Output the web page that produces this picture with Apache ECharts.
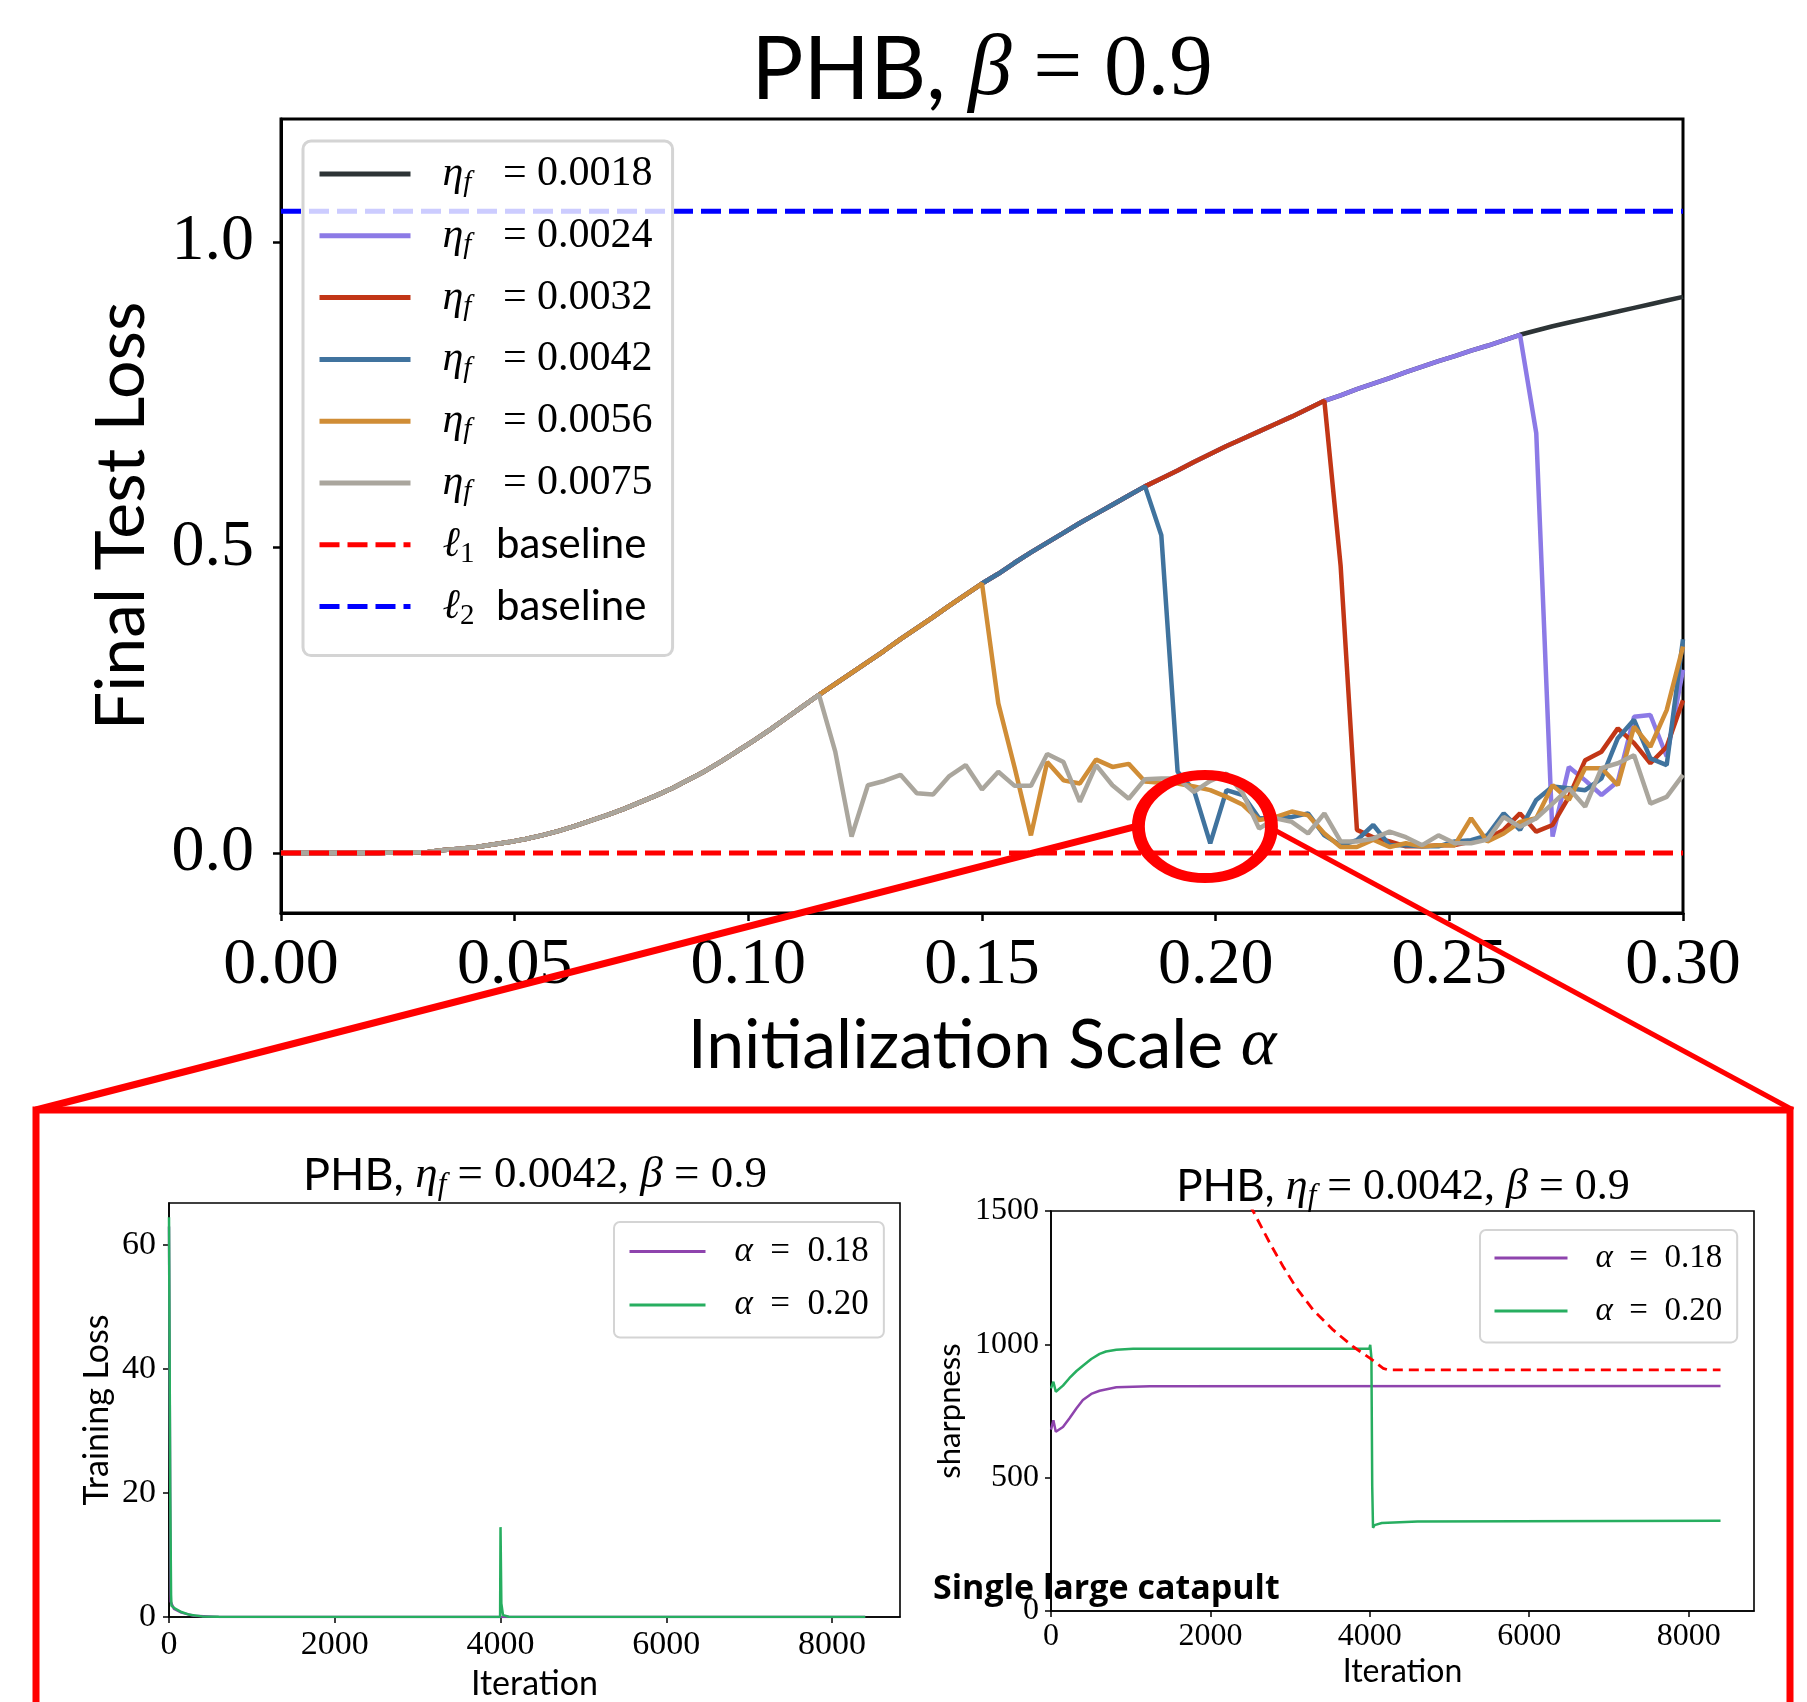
<!DOCTYPE html>
<html>
<head>
<meta charset="utf-8">
<script src="https://cdn.jsdelivr.net/npm/echarts@6/dist/echarts.min.js"></script>
<style>
  html, body { margin: 0; padding: 0; background: #fff; }
  #chart { width: 1807px; height: 1702px; }
</style>
</head>
<body>
<div id="chart"></div>
<script>
// sweep grid: 87 initialization scales evenly spaced over [0, 0.3]
const alphaStep = 0.3 / 86
const alphas = Array.from({ length: 87 }, (_, i) => +(i * alphaStep).toFixed(5))

// shared branch every run follows before its catapult
const trunk = [
  0, 0, 0, 0, 0, 0, 0, 0.001, 0.001, 0.002,
  0.005, 0.007, 0.010, 0.014, 0.018, 0.023, 0.029, 0.036, 0.044, 0.053,
  0.062, 0.072, 0.083, 0.094, 0.106, 0.120, 0.134, 0.150, 0.167, 0.184,
  0.202, 0.221, 0.240, 0.259, 0.277, 0.295, 0.313, 0.331, 0.350, 0.368,
  0.386, 0.405, 0.423, 0.441, 0.457, 0.475, 0.492, 0.508, 0.524, 0.540,
  0.555, 0.570, 0.585, 0.600, 0.613, 0.626, 0.640, 0.653, 0.666, 0.678,
  0.690, 0.702, 0.714, 0.727, 0.740, 0.749, 0.759, 0.768, 0.777, 0.787,
  0.796, 0.805, 0.813, 0.822, 0.830, 0.839, 0.848, 0.855, 0.862, 0.868,
  0.874, 0.880, 0.886, 0.892, 0.898, 0.904, 0.910
]

const etaLabels = ['0.0018', '0.0024', '0.0032', '0.0042', '0.0056', '0.0075']
const etaColors = ['#2d3436', '#8c7ae6', '#c23616', '#40739e', '#d08d36', '#aaa69d']
// index where each run leaves the trunk
const dropAt = [87, 77, 65, 54, 44, 34]
const tail0018 = []
const tail0024 = [0.687, 0.027, 0.141, 0.119, 0.095, 0.117, 0.223, 0.226, 0.158, 0.30]
const tail0032 = [0.47, 0.038, 0.026, 0.019, 0.011, 0.011, 0.013, 0.013, 0.019, 0.024,
  0.038, 0.065, 0.035, 0.046, 0.092, 0.152, 0.166, 0.204, 0.18, 0.147, 0.174, 0.25]
const tail0042 = [0.52, 0.133, 0.103, 0.016, 0.103, 0.095, 0.057, 0.057, 0.059, 0.065,
  0.029, 0.013, 0.021, 0.046, 0.013, 0.013, 0.011, 0.011, 0.019, 0.021,
  0.029, 0.065, 0.038, 0.087, 0.109, 0.106, 0.103, 0.122, 0.188, 0.218, 0.155, 0.144, 0.35]
const tail0056 = [0.245, 0.14, 0.029, 0.149, 0.119, 0.114, 0.153, 0.141, 0.146, 0.117,
  0.115, 0.114, 0.109, 0.103, 0.092, 0.079, 0.054, 0.059, 0.068, 0.062,
  0.032, 0.010, 0.010, 0.022, 0.010, 0.016, 0.011, 0.013, 0.013, 0.057,
  0.019, 0.032, 0.051, 0.057, 0.111, 0.087, 0.139, 0.139, 0.111, 0.207, 0.174, 0.234, 0.338]
const tail0075 = [0.166, 0.027, 0.111, 0.118, 0.128, 0.098, 0.096, 0.126, 0.144, 0.104,
  0.133, 0.110, 0.110, 0.162, 0.149, 0.084, 0.144, 0.111, 0.089, 0.121,
  0.122, 0.122, 0.100, 0.118, 0.130, 0.098, 0.040, 0.057, 0.051, 0.032,
  0.065, 0.019, 0.019, 0.024, 0.035, 0.026, 0.013, 0.029, 0.016, 0.016,
  0.022, 0.059, 0.043, 0.057, 0.081, 0.106, 0.076, 0.139, 0.147, 0.160, 0.081, 0.092, 0.128]
const tails = [tail0018, tail0024, tail0032, tail0042, tail0056, tail0075]

const l1Level = 0
const l2Level = 1.05

// zoomed panels (eta_f = 0.0042)
const trainIter018 = [0, 20, 60, 150, 300, 600, 8400]
const trainLoss018 = [63, 2.5, 1.3, 0.7, 0.2, 0.02, 0.01]
const trainIter020 = [0, 15, 25, 30, 80, 150, 250, 400, 600, 3995, 4000, 4010, 4030, 4100, 8400]
const trainLoss020 = [64.5, 20, 3.6, 1.8, 1.3, 0.8, 0.35, 0.1, 0.03, 0.02, 14.5, 2.2, 0.3, 0.05, 0.01]

const sharpIter018 = [0, 30, 60, 150, 230, 320, 400, 505, 610, 820, 1240, 8400]
const sharp018 = [680, 715, 672, 690, 722, 760, 791, 814, 826, 839, 843, 844]
const sharpIter020 = [0, 30, 60, 150, 230, 320, 400, 505, 610, 690, 820, 1030, 3995, 4005, 4020, 4030, 4040, 4060, 4150, 4600, 8400]
const sharp020 = [835, 860, 822, 845, 873, 900, 920, 945, 964, 973, 980, 983, 984, 998, 950, 470, 312, 322, 330, 336, 338]
const threshIter = [2400, 2535, 2745, 2912, 3080, 3289, 3540, 3792, 4001, 4168, 4230, 8400]
const thresh = [1575, 1500, 1380, 1292, 1211, 1129, 1054, 991, 948, 910, 904, 904]

const SANS = 'Lato, "Noto Sans", sans-serif'
const SERIF = '"Liberation Serif", "DejaVu Serif", serif'

function richSet (size, gap) {
  const L = Math.round(size * 1.15)
  const subSize = Math.round(size * 0.7)
  const subL = Math.round(L - size * 0.66)
  return {
    s: { fontFamily: SANS, fontSize: size, lineHeight: L, color: '#000' },
    m: { fontFamily: SERIF, fontSize: size, lineHeight: L, color: '#000' },
    mi: { fontFamily: SERIF, fontStyle: 'italic', fontSize: size, lineHeight: L, color: '#000' },
    sub: { fontFamily: SERIF, fontStyle: 'italic', fontSize: subSize, lineHeight: subL, verticalAlign: 'bottom', color: '#000' },
    subr: { fontFamily: SERIF, fontSize: subSize, lineHeight: subL, verticalAlign: 'bottom', color: '#000' },
    g: { width: gap || 0, fontSize: size, lineHeight: L }
  }
}

const chart = echarts.init(document.getElementById('chart'))

const mainSeries = etaLabels.map((eta, i) => ({
  name: eta,
  type: 'line',
  xAxisIndex: 0,
  yAxisIndex: 0,
  symbol: 'none',
  emphasis: { disabled: true },
  color: etaColors[i],
  lineStyle: { color: etaColors[i], width: 4.5 },
  data: trunk.slice(0, dropAt[i]).concat(tails[i]).map((v, k) => [alphas[k], v])
}))

const baseline = (name, level, color) => ({
  name,
  type: 'line',
  xAxisIndex: 0,
  yAxisIndex: 0,
  symbol: 'none',
  emphasis: { disabled: true },
  color,
  lineStyle: { color, width: 5, type: [20, 8] },
  data: [[0, level], [0.3, level]]
})

const subLine = (name, xs, ys, color, idx, extra) => Object.assign({
  name,
  type: 'line',
  xAxisIndex: idx,
  yAxisIndex: idx,
  symbol: 'none',
  emphasis: { disabled: true },
  color,
  lineStyle: { color, width: 2.5 },
  data: xs.map((x, k) => [x, ys[k]])
}, extra || {})

const PURPLE = '#8e44ad'
const GREEN = '#27ae60'

const legendText = {}
etaLabels.forEach(e => { legendText[e] = '{g| }{mi|η}{sub|f}{m|   = ' + e + '}' })
legendText['l1'] = '{g| }{mi|ℓ}{subr|1}{s|  baseline}'
legendText['l2'] = '{g| }{mi|ℓ}{subr|2}{s|  baseline}'
legendText['α = 0.18'] = '{g| }{mi|α}{m|  =  0.18}'
legendText['α = 0.20'] = '{g| }{mi|α}{m|  =  0.20}'

const frameAxis = w => ({
  axisLine: { show: true, onZero: false, lineStyle: { color: '#000', width: w } },
  axisTick: { show: true, inside: false, length: w > 2 ? 8 : 6, lineStyle: { color: '#000', width: w > 2 ? 2.5 : 1.5 } },
  splitLine: { show: false }
})

const subXAxis = (idx, size, margin, gap) => Object.assign({
  type: 'value', gridIndex: idx, min: 0, max: 8820,
  name: 'Iteration', nameLocation: 'middle', nameGap: gap,
  nameTextStyle: { fontFamily: SANS, fontSize: size, color: '#000' },
  axisLabel: {
    customValues: [0, 2000, 4000, 6000, 8000],
    fontFamily: SERIF, fontSize: size, color: '#000', margin,
    formatter: v => String(v)
  }
}, frameAxis(1.6), {
  axisTick: { show: true, length: 6, customValues: [0, 2000, 4000, 6000, 8000], lineStyle: { color: '#000', width: 1.5 } }
})

// legend icon: only the line, no marker
const legendCommon = {
  orient: 'vertical',
  selectedMode: false,
  itemHeight: 1,
  itemStyle: { opacity: 0 },
  backgroundColor: 'rgba(255,255,255,0.8)',
  borderColor: '#d4d4d4',
  formatter: n => legendText[n]
}

chart.setOption({
  animation: false,
  backgroundColor: '#fff',
  grid: [
    { left: 281, top: 119, width: 1402, height: 794, show: true, borderColor: '#000', borderWidth: 3, backgroundColor: 'transparent' },
    { left: 169, top: 1203, width: 731, height: 414, show: true, borderColor: '#000', borderWidth: 1.6, backgroundColor: 'transparent' },
    { left: 1051, top: 1211, width: 703, height: 400, show: true, borderColor: '#000', borderWidth: 1.6, backgroundColor: 'transparent' }
  ],
  xAxis: [
    Object.assign({
      type: 'value', gridIndex: 0, min: 0, max: 0.3, interval: 0.05,
      name: '{s|Initialization Scale }{mi|α}', nameLocation: 'middle', nameGap: 94,
      nameTextStyle: { rich: richSet(68) },
      axisLabel: { fontFamily: SERIF, fontSize: 66, color: '#000', margin: 20, formatter: v => v.toFixed(2) }
    }, frameAxis(3)),
    subXAxis(1, 34, 11, 50),
    subXAxis(2, 32, 10, 45)
  ],
  yAxis: [
    Object.assign({
      type: 'value', gridIndex: 0, min: -0.098, max: 1.201,
      name: 'Final Test Loss', nameLocation: 'middle', nameRotate: 90, nameGap: 125,
      nameTextStyle: { fontFamily: SANS, fontSize: 68, color: '#000' },
      axisLabel: { customValues: [0, 0.5, 1], fontFamily: SERIF, fontSize: 66, color: '#000', margin: 27, formatter: v => v.toFixed(1) }
    }, frameAxis(3), {
      axisTick: { show: true, length: 8, customValues: [0, 0.5, 1], lineStyle: { color: '#000', width: 2.5 } }
    }),
    Object.assign({
      type: 'value', gridIndex: 1, min: 0, max: 66.8,
      name: 'Training Loss', nameLocation: 'middle', nameRotate: 90, nameGap: 55,
      nameTextStyle: { fontFamily: SANS, fontSize: 34, color: '#000' },
      axisLabel: { customValues: [0, 20, 40, 60], fontFamily: SERIF, fontSize: 34, color: '#000', margin: 13, formatter: v => String(v) }
    }, frameAxis(1.6), {
      axisTick: { show: true, length: 6, customValues: [0, 20, 40, 60], lineStyle: { color: '#000', width: 1.5 } }
    }),
    Object.assign({
      type: 'value', gridIndex: 2, min: 0, max: 1500,
      name: 'sharpness', nameLocation: 'middle', nameRotate: 90, nameGap: 86,
      nameTextStyle: { fontFamily: SANS, fontSize: 31, color: '#000' },
      axisLabel: { customValues: [0, 500, 1000, 1500], fontFamily: SERIF, fontSize: 32, color: '#000', margin: 12, formatter: v => String(v) }
    }, frameAxis(1.6), {
      axisTick: { show: true, length: 6, customValues: [0, 500, 1000, 1500], lineStyle: { color: '#000', width: 1.5 } }
    })
  ],
  legend: [
    Object.assign({}, legendCommon, {
      data: etaLabels.concat(['l1', 'l2']),
      left: 303, top: 141,
      padding: [12, 20, 25, 14],
      itemWidth: 91, itemGap: 16.8,
      borderWidth: 3, borderRadius: 8,
      lineStyle: { width: 5 },
      textStyle: { rich: richSet(42, 27) }
    }),
    Object.assign({}, legendCommon, {
      data: ['α = 0.18', 'α = 0.20'],
      left: 614, top: 1222,
      padding: [12, 15, 15, 14],
      itemWidth: 76, itemGap: 18.5,
      borderWidth: 2, borderRadius: 6,
      lineStyle: { width: 3 },
      textStyle: { rich: richSet(35, 24) }
    }),
    Object.assign({}, legendCommon, {
      data: ['α = 0.18', 'α = 0.20'],
      left: 1480, top: 1230,
      padding: [11.5, 15, 15, 13],
      itemWidth: 73, itemGap: 19.9,
      borderWidth: 2, borderRadius: 6,
      lineStyle: { width: 3 },
      textStyle: { rich: richSet(33, 23) }
    })
  ],
  series: mainSeries.concat([
    baseline('l1', l1Level, '#ff0000'),
    baseline('l2', l2Level, '#0000ff'),
    subLine('α = 0.18', trainIter018, trainLoss018, PURPLE, 1),
    subLine('α = 0.20', trainIter020, trainLoss020, GREEN, 1),
    subLine('α = 0.18', sharpIter018, sharp018, PURPLE, 2),
    subLine('α = 0.20', sharpIter020, sharp020, GREEN, 2),
    subLine('threshold', threshIter, thresh, '#ff0000', 2, { lineStyle: { color: '#ff0000', width: 2.8, type: [10, 6] } })
  ])
})

// annotation: circle around the eta_f = 0.0042 catapult, linked to the zoom box
const c = chart.convertToPixel({ gridIndex: 0 }, [0.1977, 0.0434])
const ry = 51.5
const sx = 1.292
const boxL = 36, boxT = 1110, boxR = 1790

chart.setOption({
  graphic: [
    {
      type: 'text', x: 982, y: 71, z: 50,
      style: { text: '{s|PHB, }{mi|β}{m| = 0.9}', rich: richSet(87), align: 'center', verticalAlign: 'middle' }
    },
    {
      type: 'text', x: 535, y: 1175, z: 50,
      style: { text: '{s|PHB, }{mi|η}{sub|f}{m| = 0.0042, }{mi|β}{m| = 0.9}', rich: richSet(45), align: 'center', verticalAlign: 'middle' }
    },
    {
      type: 'text', x: 1403, y: 1187, z: 50,
      style: { text: '{s|PHB, }{mi|η}{sub|f}{m| = 0.0042, }{mi|β}{m| = 0.9}', rich: richSet(44), align: 'center', verticalAlign: 'middle' }
    },
    {
      type: 'text', x: 933, y: 1589, z: 60,
      style: { text: 'Single large catapult', fontFamily: '"Open Sans", Lato, sans-serif', fontWeight: 'bold', fontSize: 34, fill: '#000', align: 'left', verticalAlign: 'middle' }
    },
    {
      type: 'rect', z: 100,
      shape: { x: boxL, y: boxT, width: boxR - boxL, height: 700 },
      style: { fill: 'none', stroke: '#ff0000', lineWidth: 7 }
    },
    {
      type: 'line', z: 100,
      shape: { x1: c[0] - ry * sx - 3, y1: c[1], x2: boxL, y2: boxT },
      style: { stroke: '#ff0000', lineWidth: 7 }
    },
    {
      type: 'line', z: 100,
      shape: { x1: c[0] + ry * sx + 2, y1: c[1] + 3, x2: boxR + 3, y2: boxT },
      style: { stroke: '#ff0000', lineWidth: 5 }
    },
    {
      type: 'circle', z: 101,
      x: c[0], y: c[1], scaleX: sx, scaleY: 1,
      shape: { cx: 0, cy: 0, r: ry },
      style: { fill: 'none', stroke: '#ff0000', lineWidth: 10 }
    }
  ]
})
</script>
</body>
</html>
